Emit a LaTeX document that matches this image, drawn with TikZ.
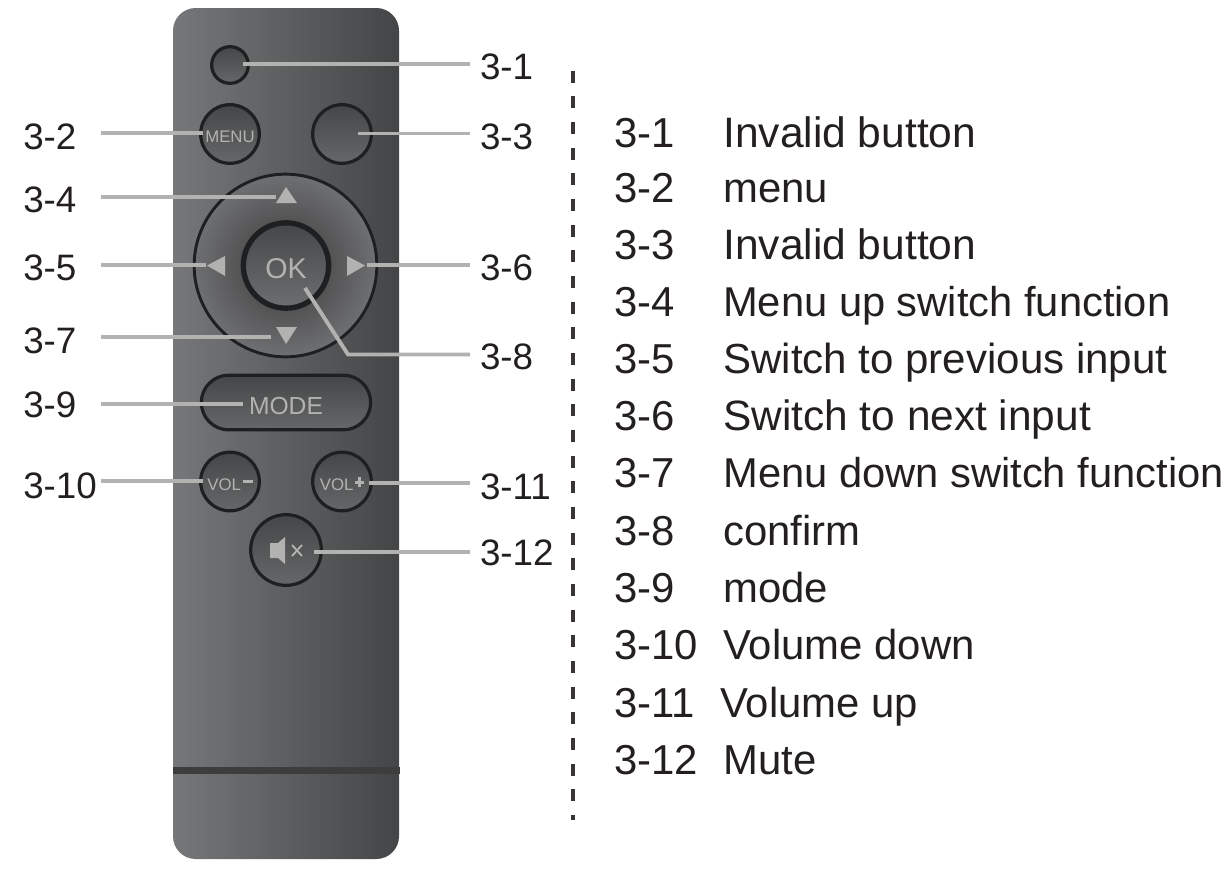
\documentclass[tikz,border=0pt]{standalone}
\usepackage{fontspec}
\setmainfont{Liberation Sans}
\usetikzlibrary{shapes.misc,calc}
\definecolor{ink}{HTML}{231F20}
\definecolor{leadc}{HTML}{B2B2B0}
\definecolor{ring}{HTML}{1E1F21}
\definecolor{bodyl}{HTML}{767779}
\definecolor{bodym}{HTML}{626365}
\definecolor{bodyr}{HTML}{444546}
\definecolor{btop}{HTML}{454647}
\definecolor{bbot}{HTML}{666768}
\newcommand{\dn}[2]{\raisebox{-#1pt}[0pt][0pt]{#2}}
\newcommand{\fs}[1]{\fontsize{#1}{34}\selectfont}
\tikzset{
  x=0.75pt,y=-0.75pt,
  lead/.style={draw=leadc,line width=2.9pt},
  btn/.style={circle,draw=ring,line width=2.4pt,inner sep=0pt,text=leadc,top color=btop,bottom color=bbot,align=center},
  tri/.style={fill=leadc,draw=none},
  lnum/.style={font=\fontsize{27.6}{29}\selectfont,text=ink,anchor=base west,inner sep=0pt,text width=57.75pt,align=left},
  rnum/.style={font=\fontsize{27.6}{29}\selectfont,text=ink,anchor=base west,inner sep=0pt,outer xsep=7.5pt},
  item/.style={font=\fontsize{31.4}{34}\selectfont,text=ink,anchor=base west,inner sep=0pt},
}
\begin{document}
\begin{tikzpicture}
\useasboundingbox (0,0) rectangle (1229,872);
% body
\shade[left color=bodyl,middle color=bodym,right color=bodyr,rounded corners=17pt] (173,8) rectangle (399,859);
\fill[black!76!white] (173,767) rectangle (400,774);
% buttons
\node[btn,minimum size=27.5pt] (b1) at (230,65) {};
\node[btn,minimum size=44pt,font=\fontsize{12.6}{14}\selectfont] (b2) at (230,134) {\dn{6.5}{MENU}};
\node[btn,minimum size=44pt] (b3) at (342,134) {};
\node[circle,draw=ring,line width=2.2pt,inner sep=0pt,minimum size=137pt,inner color=black!78!white,outer color=bodym!92!white] (pad) at (285.5,265.5) {};
\node[btn,line width=4pt,minimum size=64pt,top color=btop,bottom color=bbot!95!white,font=\fontsize{21.5}{24}\selectfont] (ok) at (286,265.5) {\dn{9.6}{OK}};
\fill[tri] (286,187) -- (297,203) -- (276,203) -- cycle;
\fill[tri] (207,265.5) -- (225,256) -- (225,276) -- cycle;
\fill[tri] (365,265.5) -- (347,256) -- (347,276) -- cycle;
\fill[tri] (286,344) -- (297,327) -- (276,327) -- cycle;
\node[rounded rectangle,draw=ring,line width=2.4pt,inner sep=0pt,minimum width=127pt,minimum height=41pt,text=leadc,top color=btop,bottom color=bbot,font=\fontsize{18.5}{20}\selectfont] (mode) at (286,402.5) {\dn{9}{MODE}};
\node[btn,minimum size=44pt,font=\fontsize{12.6}{14}\selectfont] (volm) at (230,481.5) {\dn{6.5}{VOL\hspace{1.2pt}\raisebox{5.4pt}{\rule{7.5pt}{2.2pt}}}};
\node[btn,minimum size=44pt,font=\fontsize{12.6}{14}\selectfont] (volp) at (342,481.5) {\dn{6.5}{VOL\hspace{1.2pt}\raisebox{2.6pt}{\rule{2.2pt}{0pt}\rule{2.4pt}{7pt}\kern-4.7pt\raisebox{2.4pt}{\rule{7pt}{2.2pt}}}}};
\node[btn,minimum size=53pt] (mute) at (286,550) {};
\fill[leadc] (270,543) -- (278,543) -- (285,537) -- (285,564) -- (278,558) -- (270,558) -- cycle;
\draw[leadc,line width=1.4pt] (292,545) -- (302,556) (302,545) -- (292,556);
% labels
\node[rnum] (l1) at (470,79) {3-1};
\node[lnum] (l2) at (23,149) {3-2};
\node[rnum] (l3) at (470,149) {3-3};
\node[lnum] (l4) at (23,212) {3-4};
\node[lnum] (l5) at (23,280) {3-5};
\node[rnum] (l6) at (470,280) {3-6};
\node[lnum] (l7) at (23,353) {3-7};
\node[rnum] (l8) at (470,369) {3-8};
\node[lnum] (l9) at (23,417) {3-9};
\node[lnum] (l10) at (23,498) {3-10};
\node[rnum] (l11) at (470,499) {3-11};
\node[rnum] (l12) at (470,565) {3-12};
% connector inner ends
\coordinate (e1) at (243,64);
\coordinate (e2) at (203,133);
\coordinate (e3) at (358,133.5);
\coordinate (e4) at (276,197);
\coordinate (e5) at (206,265);
\coordinate (e6) at (367,265);
\coordinate (e7) at (271,337);
\coordinate (e8) at (305,288);
\coordinate (k8) at (348,354.5);
\coordinate (e9) at (243,404);
\coordinate (e10) at (203,481);
\coordinate (e11) at (369,483);
\coordinate (e12) at (314,552);
% connectors
\draw[lead] (e1) -- (e1 -| l1.west);
\draw[lead] (l2.east |- e2) -- (e2);
\draw[lead] (e3) -- (e3 -| l3.west);
\draw[lead] (l4.east |- e4) -- (e4);
\draw[lead] (l5.east |- e5) -- (e5);
\draw[lead] (e6) -- (e6 -| l6.west);
\draw[lead] (l7.east |- e7) -- (e7);
\draw[lead,line join=miter] (e8) -- (k8) -- (k8 -| l8.west);
\draw[lead] (l9.east |- e9) -- (e9);
\draw[lead] (l10.east |- e10) -- (e10);
\draw[lead] (e11) -- (e11 -| l11.west);
\draw[lead] (e12) -- (e12 -| l12.west);
% divider
\coordinate (dtop) at (573,70.7);
\coordinate (dbot) at (573,820);
\draw[ink!90!white,line width=2.5pt,dash pattern=on 9pt off 10.25pt] (dtop) -- (dbot);
% list
\node[item] (n1) at (614,147) {3-1};      \node[item] (t1) at (723,147) {\fs{31.9}Invalid button};
\node[item] (n2) at (614,202) {3-2};      \node[item] (t2) at (723,202) {menu};
\node[item] (n3) at (614,259) {3-3};      \node[item] (t3) at (723,259) {\fs{31.9}Invalid button};
\node[item] (n4) at (614,316) {3-4};      \node[item] (t4) at (723,316) {\fs{31.26}Menu up switch function};
\node[item] (n5) at (614,373) {3-5};      \node[item] (t5) at (723,373) {\fs{31.54}Switch to previous input};
\node[item] (n6) at (614,430) {3-6};      \node[item] (t6) at (723,430) {\fs{31.8}Switch to next input};
\node[item] (n7) at (614,487) {3-7};      \node[item] (t7) at (723,487) {\fs{31.27}Menu down switch function};
\node[item] (n8) at (614,545) {3-8};      \node[item] (t8) at (723,545) {confirm};
\node[item] (n9) at (614,602) {3-9};      \node[item] (t9) at (723,602) {mode};
\node[item] (n10) at (614,659) {3-10};    \node[item] (t10) at (723,659) {Volume down};
\node[item] (n11) at (614,717) {3-11};    \node[item] (t11) at (720,717) {Volume up};
\node[item] (n12) at (614,774) {3-12};    \node[item] (t12) at (723,774) {Mute};
\end{tikzpicture}
\end{document}
